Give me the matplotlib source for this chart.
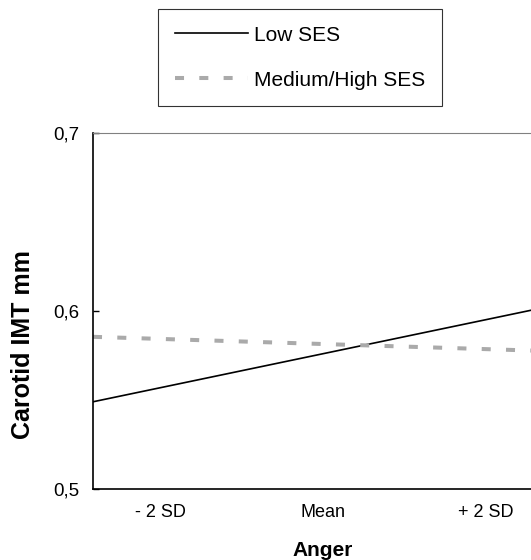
import numpy as np
import matplotlib.pyplot as plt

plt.rcParams['font.family'] = ['Liberation Sans', 'DejaVu Sans']

# anger range of the fitted lines (in SD units) and predicted IMT
anger = [-2.83, 2.83]
low_ses = [0.549, 0.603]
mid_high_ses = [0.5855, 0.5774]

tick_pos = [-2, 0, 2]
tick_labels = ['- 2 SD', 'Mean', '+ 2 SD']
y_ticks = [0.5, 0.6, 0.7]
y_labels = ['0,5', '0,6', '0,7']

W, H = 531, 560
fig = plt.figure(figsize=(W / 100, H / 100), dpi=100)
# axes runs a bit past the right edge of the figure, like the cropped original
ax = fig.add_axes([93 / W, 1 - 489 / H, 460 / W, (489 - 133) / H])

lw = 2.9
l1, = ax.plot(anger, low_ses, color='black', lw=1.2, label='Low SES')
l2, = ax.plot(anger, mid_high_ses, color='#aaaaaa', lw=lw,
              dashes=(6.5 / lw, 11 / lw), label='Medium/High SES')

ax.set_xlim(-2.83, 2.83)
ax.set_ylim(0.5, 0.7)
ax.set_xticks(tick_pos)
ax.set_xticklabels(tick_labels, fontsize=13)
ax.set_yticks(y_ticks)
ax.set_yticklabels(y_labels, fontsize=13.5)
ax.tick_params(axis='x', length=0, pad=11)
ax.tick_params(axis='y', direction='in', length=4, width=1, pad=10)

ax.spines['right'].set_visible(False)
ax.spines['top'].set_color('#808080')
for s in ['left', 'bottom']:
    ax.spines[s].set_linewidth(1.2)

ax.set_xlabel('Anger', fontsize=15, fontweight='bold', labelpad=14)
ax.set_ylabel('Carotid IMT mm', fontsize=18, fontweight='bold')
ax.yaxis.set_label_coords(-0.126, 0.407)

leg = fig.legend(handles=[l1, l2], loc='upper left',
                 bbox_to_anchor=(158 / W, 1 - 9 / H), fontsize=15,
                 frameon=True, fancybox=False, handlelength=3.5,
                 handletextpad=0.3, borderpad=0.8, labelspacing=1.25,
                 borderaxespad=0)
leg.get_frame().set_edgecolor('black')
leg.get_frame().set_linewidth(0.8)

fig.savefig('out.png', dpi=100)
